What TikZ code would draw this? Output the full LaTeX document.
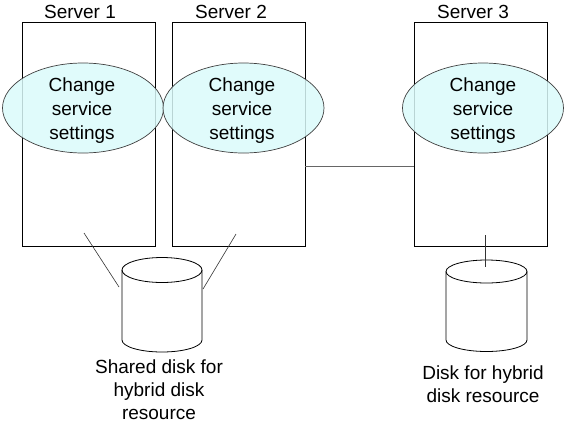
\documentclass[tikz,border=0pt]{standalone}
\usepackage{fontspec}
\setmainfont{Liberation Sans}
\usetikzlibrary{shapes.geometric}
\tikzset{
  server/.style={draw=black, line width=0.8pt},
  svc/.style={ellipse, draw=black!75, line width=0.7pt, fill={rgb,255:red,218;green,250;blue,250}, fill opacity=0.85, text opacity=1,
    minimum width=161pt, minimum height=90pt, inner sep=0pt, align=center,
    font=\fontsize{19}{24}\selectfont},
  lbl/.style={font=\fontsize{19}{23}\selectfont, align=center, inner sep=0pt},
  link/.style={line width=0.6pt, draw=black!80},
  cyl/.style={line width=0.8pt, draw=black}
}
\begin{document}
\begin{tikzpicture}[x=1pt,y=-1pt]
\useasboundingbox (0,0) rectangle (567,424);
% servers
\node[server, minimum width=133pt, minimum height=224pt, inner sep=0pt] (s1) at (88.5,134) {};
\node[server, minimum width=133pt, minimum height=224pt, inner sep=0pt] (s2) at (238.5,134) {};
\node[server, minimum width=133pt, minimum height=224pt, inner sep=0pt] (s3) at (480.5,134) {};
\node[lbl] (t1) at (80,12) {Server 1};
\node[lbl] (t2) at (231,12) {Server 2};
\node[lbl] (t3) at (473,12) {Server 3};
% ellipses
\node[svc] (e1) at (83,108) {};
\node[svc] (e2) at (243.5,108) {};
\node[svc] (e3) at (483,108) {};
\node[lbl, font=\fontsize{19}{24}\selectfont] (c1) at (82,110.5) {Change\\service\\settings};
\node[lbl, font=\fontsize{19}{24}\selectfont] (c2) at (242,110.5) {Change\\service\\settings};
\node[lbl, font=\fontsize{19}{24}\selectfont] (c3) at (483,110.5) {Change\\service\\settings};
% network line
\draw[line width=0.8pt, draw=black!60] (s2.east |- 0,166) -- (s3.west |- 0,166);
% shared disk
\draw[cyl, fill=white] (122,270) -- (122,340) arc[start angle=180, end angle=0, x radius=40, y radius=12] -- (202,270);
\draw[cyl] (162,270) ellipse[x radius=40, y radius=12.5];
\coordinate (d1l) at (119,287);
\coordinate (d1r) at (203,289);
\coordinate (s1c) at (84,233);
\coordinate (s2c) at (236,234);
\draw[link] (s1c) -- (d1l);
\draw[link] (s2c) -- (d1r);
\node[lbl] (l1) at (159,390) {Shared disk for\\hybrid disk\\resource};
% server 3 disk
\draw[cyl, fill=white] (446,271.5) -- (446,340) arc[start angle=180, end angle=0, x radius=40.5, y radius=11.5] -- (527,271.5);
\draw[cyl] (486.5,271.5) ellipse[x radius=40.5, y radius=11.5];
\coordinate (s3c) at (485,235);
\coordinate (d3t) at (485,267);
\draw[link] (s3c) -- (d3t);
\node[lbl] (l3) at (483,384) {Disk for hybrid\\disk resource};
\end{tikzpicture}
\end{document}
